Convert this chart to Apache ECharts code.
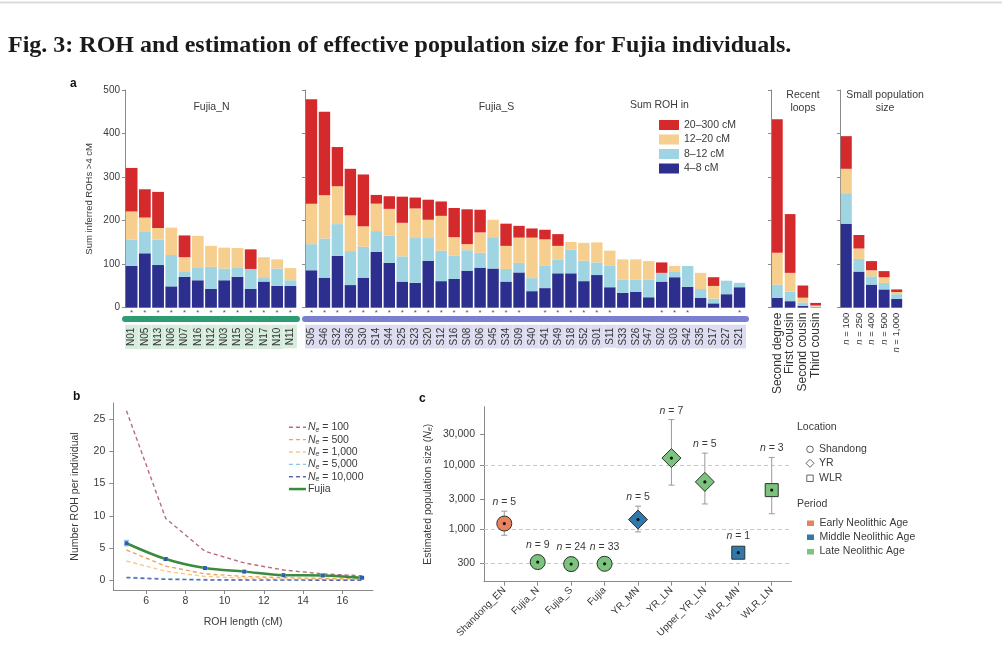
<!DOCTYPE html>
<html><head><meta charset="utf-8">
<script src="https://cdn.jsdelivr.net/npm/echarts@6/dist/echarts.min.js"></script>
<style>html,body{margin:0;padding:0;background:#fff}#c{width:1002px;height:664px}</style>
</head><body><div id="c"></div>
<script>
// ---------- Panel a data ----------
const nIds = ['N01','N05','N13','N06','N07','N16','N12','N03','N15','N02','N17','N10','N11'];
const nStars = [1,1,1,1,1,1,1,1,1,1,1,1,1];
const nSeg4_8   = [96,125,98,49,71,63,43,63,71,43,60,50,50];
const nSeg8_12  = [60,49,58,72,11,30,51,27,22,46,10,40,13];
const nSeg12_20 = [65,33,27,63,34,72,48,48,44,0,46,21,28];
const nSeg20_300= [100,65,83,0,50,0,0,0,0,45,0,0,0];

const sIds = ['S05','S46','S32','S36','S30','S14','S44','S25','S23','S20','S12','S16','S08','S06','S45','S34','S09',
              'S40','S41','S49','S18','S52','S01','S11','S33','S26','S47','S02','S03','S42','S35','S17','S27','S21'];
const sStars = [1,1,1,1,1,1,1,1,1,1,1,1,1,1,1,1,1, 0,1,1,1,1,1,1,0,0,0,1,1,1,0,0,0,1];
const sSeg4_8   = [86,69,119,52,69,128,103,60,57,108,61,66,85,92,90,60,81, 38,45,79,79,61,75,47,34,36,24,60,70,48,23,10,31,47];
const sSeg8_12  = [60,90,73,78,71,48,63,58,103,52,70,53,47,34,72,29,22, 30,51,32,55,47,29,49,31,29,41,20,12,48,20,11,31,10];
const sSeg12_20 = [93,99,87,82,47,63,61,77,68,42,80,43,14,47,40,53,58, 93,61,31,17,41,46,35,46,46,42,0,14,0,37,29,0,0];
const sSeg20_300= [240,192,90,107,119,20,29,60,25,46,33,67,80,52,0,51,27, 21,22,27,0,0,0,0,0,0,0,24,0,0,0,20,0,0];

const loopCats = ['Second degree','First cousin','Second cousin','Third cousin'];
const loopSeg4_8   = [23,15,4,1];
const loopSeg8_12  = [30,22,8,2];
const loopSeg12_20 = [73,43,11,2];
const loopSeg20_300= [307,135,28,6];

const popSizeCats = ['100','250','400','500','1,000'];
const popSeg4_8   = [193,83,53,42,20];
const popSeg8_12  = [70,29,19,15,11];
const popSeg12_20 = [56,24,14,13,5];
const popSeg20_300= [75,31,21,14,6];

const segNames = ['4–8 cM','8–12 cM','12–20 cM','20–300 cM'];

// ---------- Panel b data ----------
const rohLen = [5,7,9,11,13,15,17];
const ne100   = [26.3,9.6,4.5,2.7,1.6,1.0,0.7];
const ne500   = [4.7,2.2,1.0,0.6,0.4,0.3,0.2];
const ne1000  = [3.0,1.4,0.6,0.35,0.2,0.15,0.1];
const ne5000  = [0.5,0.25,0.12,0.08,0.05,0.04,0.03];
const ne10000 = [0.4,0.15,0.06,0.04,0.03,0.02,0.01];
const fujia   = [5.75,3.3,1.9,1.35,0.8,0.75,0.4];
const fujiaLo = [5.35,3.1,1.8,1.25,0.72,0.68,0.33];
const fujiaHi = [6.2,3.5,2.0,1.45,0.88,0.82,0.47];
const bXTicks = [6,8,10,12,14,16];
const bYTicks = [0,5,10,15,20,25];

// ---------- Panel c data ----------
const popNames  = ['Shandong_EN','Fujia_N','Fujia_S','Fujia','YR_MN','YR_LN','Upper_YR_LN','WLR_MN','WLR_LN'];
const popNe     = [1240,313,291,294,1430,12900,5500,437,4100];
const popLow    = [815,null,null,null,920,4900,2500,null,1760];
const popHigh   = [1930,null,null,null,2310,51000,15400,null,13200];
const popCount  = [5,9,24,33,5,7,5,1,3];
const popLoc    = ['Shandong','Shandong','Shandong','Shandong','YR','YR','YR','WLR','WLR'];
const popPeriod = ['Early','Late','Late','Late','Middle','Late','Late','Middle','Late'];
const cYTicks   = [300,1000,3000,10000,30000];
const cGridVals = [300,1000,10000];

// ---------- styles ----------
const FONT = 'Liberation Sans';
const TXT = '#3a3a3a';
const AX = '#8a8a8a';
const segColors = ['#2c2f8e','#9fd4e3','#f6cf8e','#d42a2c'];
const periodColor = {Early:'#e8835f', Middle:'#2f79ad', Late:'#7cc47e'};

const chart = echarts.init(document.getElementById('c'), null, {renderer:'canvas'});

const grids = [
  {left:125, top:90, width:172, height:217.7},
  {left:305, top:90, width:441, height:217.7},
  {left:771, top:90, width:51,  height:217.7},
  {left:840, top:90, width:63,  height:217.7},
  {left:113.3, top:403, width:259.7, height:187},
  {left:484, top:406.7, width:307.7, height:175}
];

function aYAxis(gi, labels){
  return {type:'value', gridIndex:gi, min:0, max:500, interval:100,
    axisLine:{show:true, lineStyle:{color:AX, width:1}},
    axisTick:{show:true, length:3, lineStyle:{color:AX}},
    axisLabel:{show:labels, fontFamily:FONT, fontSize:10, color:TXT, margin:5},
    splitLine:{show:false},
    name: labels ? 'Sum inferred ROHs >4 cM' : '', nameLocation:'middle', nameGap:31,
    nameTextStyle:{fontFamily:FONT, fontSize:9.5, color:TXT}};
}
function starAxis(gi, ids, stars){
  return {type:'category', gridIndex:gi, data:ids, position:'bottom',
    axisLine:{show:false}, axisTick:{show:false},
    axisLabel:{interval:0, margin:1, fontFamily:FONT, fontSize:8, color:'#555',
      formatter:(v,i)=> stars[i] ? '*' : ''}};
}
function idAxis(gi, ids, band, bg){
  return {type:'category', gridIndex:gi, data:ids, position:'bottom', offset:11,
    axisLine:{show:true, lineStyle:{color:band, width:6}}, axisTick:{show:false},
    axisLabel:{interval:0, rotate:90, margin:6, fontFamily:FONT, fontSize:10, color:'#333',
      backgroundColor:bg, padding:[1,3,0,3], lineHeight:12}};
}

const xAxes = [
  starAxis(0, nIds, nStars),
  idAxis(0, nIds, '#2e9c72', '#d6ecdd'),
  starAxis(1, sIds, sStars),
  idAxis(1, sIds, '#7b7fcf', '#dcdcf1'),
  {type:'category', gridIndex:2, data:loopCats, axisLine:{show:false}, axisTick:{show:false},
    axisLabel:{interval:0, rotate:90, margin:5, fontFamily:FONT, fontSize:12, color:'#333'}},
  {type:'category', gridIndex:3, data:popSizeCats, axisLine:{show:false}, axisTick:{show:false},
    axisLabel:{interval:0, rotate:90, margin:5, fontFamily:FONT, fontSize:9.5, color:'#333',
      formatter: v => '{i|n} = ' + v, rich:{i:{fontStyle:'italic', fontFamily:FONT, fontSize:9.5, color:'#333'}}}},
  {type:'value', gridIndex:4, min:4.33, max:17.56,
    axisLine:{show:true, onZero:false, lineStyle:{color:AX}},
    axisTick:{show:true, length:4, customValues:bXTicks, lineStyle:{color:AX}},
    axisLabel:{customValues:bXTicks, fontFamily:FONT, fontSize:10.5, color:TXT, margin:6},
    splitLine:{show:false},
    name:'ROH length (cM)', nameLocation:'middle', nameGap:27,
    nameTextStyle:{fontFamily:FONT, fontSize:10.5, color:TXT}},
  {type:'value', gridIndex:5, min:-0.607, max:8.598,
    axisLine:{show:true, onZero:false, lineStyle:{color:AX}},
    axisTick:{show:true, length:4, customValues:[0,1,2,3,4,5,6,7,8], lineStyle:{color:AX}},
    axisLabel:{customValues:[0,1,2,3,4,5,6,7,8], rotate:45, margin:7, fontFamily:FONT, fontSize:10, color:TXT,
      formatter: v => popNames[Math.round(v)]},
    splitLine:{show:false}}
];

const yAxes = [
  aYAxis(0,true), aYAxis(1,false), aYAxis(2,false), aYAxis(3,false),
  {type:'value', gridIndex:4, min:-1.5, max:27.5,
    axisLine:{show:true, onZero:false, lineStyle:{color:AX}},
    axisTick:{show:true, length:4, customValues:bYTicks, lineStyle:{color:AX}},
    axisLabel:{customValues:bYTicks, fontFamily:FONT, fontSize:10.5, color:TXT, margin:8},
    splitLine:{show:false},
    name:'Number ROH per individual', nameLocation:'middle', nameGap:33,
    nameTextStyle:{fontFamily:FONT, fontSize:10.5, color:TXT}},
  {type:'log', gridIndex:5, min:155, max:81000,
    axisLine:{show:true, onZero:false, lineStyle:{color:AX}},
    axisTick:{show:true, length:4, customValues:cYTicks, lineStyle:{color:AX}},
    axisLabel:{customValues:cYTicks, fontFamily:FONT, fontSize:10.5, color:TXT, margin:9,
      formatter: v => Number(v).toLocaleString('en-US')},
    splitLine:{show:false},
    name:'Estimated population size ({i|N}{s|e})', nameLocation:'middle', nameGap:50,
    nameTextStyle:{fontFamily:FONT, fontSize:10.5, color:TXT,
      rich:{i:{fontStyle:'italic', fontFamily:FONT, fontSize:10.5, color:TXT},
            s:{fontStyle:'italic', fontFamily:FONT, fontSize:7, color:TXT, verticalAlign:'bottom'}}}}
];

const series = [];
const aGroups = [
  {xi:0, yi:0, segs:[nSeg4_8,nSeg8_12,nSeg12_20,nSeg20_300], gap:'11%'},
  {xi:2, yi:1, segs:[sSeg4_8,sSeg8_12,sSeg12_20,sSeg20_300], gap:'12%'},
  {xi:4, yi:2, segs:[loopSeg4_8,loopSeg8_12,loopSeg12_20,loopSeg20_300], gap:'16%'},
  {xi:5, yi:3, segs:[popSeg4_8,popSeg8_12,popSeg12_20,popSeg20_300], gap:'13%'}
];
aGroups.forEach((g, gi) => {
  g.segs.forEach((arr, k) => {
    series.push({type:'bar', name:segNames[k], xAxisIndex:g.xi, yAxisIndex:g.yi, stack:'a'+gi,
      data:arr, barCategoryGap:g.gap, itemStyle:{color:segColors[k]}, silent:true});
  });
});

const neSeries = [
  {name:'Ne = 100', data:ne100, color:'#b56d7b'},
  {name:'Ne = 500', data:ne500, color:'#f0a45a'},
  {name:'Ne = 1,000', data:ne1000, color:'#f7c98a'},
  {name:'Ne = 5,000', data:ne5000, color:'#86c6e6'},
  {name:'Ne = 10,000', data:ne10000, color:'#5b66b5'}
];
neSeries.forEach(s => {
  series.push({type:'line', name:s.name, xAxisIndex:6, yAxisIndex:4, symbol:'none', showSymbol:false,
    data: rohLen.map((x,i)=>[x, s.data[i]]),
    lineStyle:{color:s.color, width:1.4, type:[4,3]}, itemStyle:{color:s.color}, z:2});
});
series.push({type:'line', name:'Fujia', xAxisIndex:6, yAxisIndex:4, symbol:'none', showSymbol:false, smooth:0.35,
  data: rohLen.map((x,i)=>[x, fujia[i]]),
  lineStyle:{color:'#3b8a3d', width:2.5}, itemStyle:{color:'#3b8a3d'}, z:3});
series.push({type:'custom', name:'fujiaErr', xAxisIndex:6, yAxisIndex:4, z:4, silent:true,
  data: rohLen.map((x,i)=>[x, fujia[i], fujiaLo[i], fujiaHi[i]]),
  renderItem:(params, api) => {
    const x = api.value(0);
    const p = api.coord([x, api.value(1)]);
    const lo = api.coord([x, api.value(2)]), hi = api.coord([x, api.value(3)]);
    return {type:'group', children:[
      {type:'line', shape:{x1:p[0],y1:lo[1],x2:p[0],y2:hi[1]}, style:{stroke:'#8fb3e0', lineWidth:1.2}},
      {type:'line', shape:{x1:p[0]-2.5,y1:lo[1],x2:p[0]+2.5,y2:lo[1]}, style:{stroke:'#8fb3e0', lineWidth:1}},
      {type:'line', shape:{x1:p[0]-2.5,y1:hi[1],x2:p[0]+2.5,y2:hi[1]}, style:{stroke:'#8fb3e0', lineWidth:1}},
      {type:'rect', shape:{x:p[0]-2,y:p[1]-2,width:4,height:4}, style:{fill:'#2d5fb0'}}
    ]};
  }});

// panel c gridlines + points
series.push({type:'line', name:'cgrid', xAxisIndex:7, yAxisIndex:5, data:[], silent:true,
  markLine:{silent:true, symbol:'none', label:{show:false},
    lineStyle:{color:'#c8c8c8', type:[4,3], width:1},
    data: cGridVals.map(v => ({yAxis:v}))}});
series.push({type:'custom', name:'ne', xAxisIndex:7, yAxisIndex:5, z:5, silent:true,
  data: popNames.map((n,i)=>[i, popNe[i]]),
  renderItem:(params, api) => {
    const i = params.dataIndex;
    const p = api.coord([i, popNe[i]]);
    const ch = [];
    let top = p[1] - 8;
    if (popHigh[i] != null) {
      const a = api.coord([i, popHigh[i]]), b = api.coord([i, popLow[i]]);
      ch.push({type:'line', shape:{x1:p[0],y1:a[1],x2:p[0],y2:b[1]}, style:{stroke:'#9a9a9a', lineWidth:1}});
      ch.push({type:'line', shape:{x1:p[0]-3,y1:a[1],x2:p[0]+3,y2:a[1]}, style:{stroke:'#9a9a9a', lineWidth:1}});
      ch.push({type:'line', shape:{x1:p[0]-3,y1:b[1],x2:p[0]+3,y2:b[1]}, style:{stroke:'#9a9a9a', lineWidth:1}});
      top = Math.min(top, a[1]);
    }
    const fill = periodColor[popPeriod[i]];
    const st = {fill:fill, stroke:'#2b332b', lineWidth:1};
    if (popLoc[i] === 'Shandong') ch.push({type:'circle', shape:{cx:p[0], cy:p[1], r:7.5}, style:st});
    else if (popLoc[i] === 'YR') ch.push({type:'polygon', shape:{points:[[p[0],p[1]-9.5],[p[0]+9.5,p[1]],[p[0],p[1]+9.5],[p[0]-9.5,p[1]]]}, style:st});
    else ch.push({type:'rect', shape:{x:p[0]-6.5, y:p[1]-6.5, width:13, height:13}, style:st});
    ch.push({type:'circle', shape:{cx:p[0], cy:p[1], r:1.6}, style:{fill:'#111'}});
    ch.push({type:'text', x:p[0], y:top - 9, style:{text:'{i|n} = ' + popCount[i], align:'center', verticalAlign:'middle',
      fontFamily:FONT, fontSize:10.5, fill:TXT,
      rich:{i:{fontStyle:'italic', fontFamily:FONT, fontSize:10.5, fill:TXT}}}});
    return {type:'group', children:ch};
  }});

const neRich = {
  i:{fontStyle:'italic', fontFamily:FONT, fontSize:10.5, color:TXT, lineHeight:12},
  s:{fontStyle:'italic', fontFamily:FONT, fontSize:7, color:TXT, verticalAlign:'bottom', lineHeight:12},
  t:{fontFamily:FONT, fontSize:10.5, color:TXT, lineHeight:12}
};

const gText = (x, y, text, opts={}) => ({type:'text', left:x, top:y, silent:true,
  style:Object.assign({text, fontFamily:FONT, fontSize:10.5, fill:TXT}, opts)});

const graphics = [
  {type:'rect', shape:{x:0, y:1.5, width:1002, height:2}, style:{fill:'#dcdcdc'}, silent:true},
  gText(8, 34, 'Fig. 3: ROH and estimation of effective population size for Fujia individuals.',
        {fontFamily:'Liberation Serif', fontWeight:'bold', fontSize:24, fill:'#1a1a1a'}),
  gText(70, 78, 'a', {fontWeight:'bold', fontSize:12, fill:'#111'}),
  gText(73, 391, 'b', {fontWeight:'bold', fontSize:12, fill:'#111'}),
  gText(419, 393, 'c', {fontWeight:'bold', fontSize:12, fill:'#111'}),
  {type:'text', x:211.5, y:107, silent:true, style:{text:'Fujia_N', align:'center', verticalAlign:'middle', fontFamily:FONT, fontSize:10.5, fill:TXT}},
  {type:'text', x:496.5, y:107, silent:true, style:{text:'Fujia_S', align:'center', verticalAlign:'middle', fontFamily:FONT, fontSize:10.5, fill:TXT}},
  {type:'text', x:803, y:102, silent:true, style:{text:'Recent\nloops', align:'center', verticalAlign:'middle', lineHeight:13, fontFamily:FONT, fontSize:10.5, fill:TXT}},
  {type:'text', x:885, y:102, silent:true, style:{text:'Small population\nsize', align:'center', verticalAlign:'middle', lineHeight:13, fontFamily:FONT, fontSize:10.5, fill:TXT}},
  gText(630, 100, 'Sum ROH in', {fontSize:10.5}),
  // panel c legend
  gText(797, 422, 'Location'),
  {type:'circle', shape:{cx:810, cy:449.3, r:3.3}, style:{fill:'#fff', stroke:'#555', lineWidth:0.9}, silent:true},
  gText(819, 443.3, 'Shandong'),
  {type:'polygon', shape:{points:[[810,459.3],[814,463.3],[810,467.3],[806,463.3]]}, style:{fill:'#fff', stroke:'#555', lineWidth:0.9}, silent:true},
  gText(819, 457.3, 'YR'),
  {type:'rect', shape:{x:806.8, y:475.1, width:6.4, height:6.4}, style:{fill:'#fff', stroke:'#555', lineWidth:0.9}, silent:true},
  gText(819, 472.3, 'WLR'),
  gText(797, 498.3, 'Period'),
  {type:'rect', shape:{x:807, y:520.5, width:7, height:5.5}, style:{fill:periodColor.Early}, silent:true},
  gText(819.5, 517.3, 'Early Neolithic Age'),
  {type:'rect', shape:{x:807, y:534.5, width:7, height:5.5}, style:{fill:periodColor.Middle}, silent:true},
  gText(819.5, 531.3, 'Middle Neolithic Age'),
  {type:'rect', shape:{x:807, y:549, width:7, height:5.5}, style:{fill:periodColor.Late}, silent:true},
  gText(819.5, 545.7, 'Late Neolithic Age')
];

chart.setOption({
  animation:false,
  backgroundColor:'#ffffff',
  textStyle:{fontFamily:FONT},
  grid: grids,
  xAxis: xAxes,
  yAxis: yAxes,
  legend:[
    {data:['20–300 cM','12–20 cM','8–12 cM','4–8 cM'], orient:'vertical', left:654, top:114.5,
      itemWidth:20, itemHeight:10, itemGap:3.5, icon:'rect', selectedMode:false,
      textStyle:{fontFamily:FONT, fontSize:10.5, color:TXT, padding:[0,0,0,0]}},
    {data:['Ne = 100','Ne = 500','Ne = 1,000','Ne = 5,000','Ne = 10,000','Fujia'], orient:'vertical', left:282.7, top:416.3,
      itemWidth:17, itemHeight:12, itemGap:0.35, itemGap:0.35, selectedMode:false,
      itemStyle:{opacity:0, borderWidth:0},
      lineStyle:{type:'inherit', width:'inherit', color:'inherit'},
      formatter: name => name === 'Fujia' ? '{t|Fujia}' : '{i|N}{s|e}{t|' + name.slice(2) + '}',
      textStyle:{fontFamily:FONT, fontSize:10.5, color:TXT, lineHeight:12, rich:neRich, padding:[0,0,0,-3]}}
  ],
  graphic: graphics,
  series: series
});
</script></body></html>
